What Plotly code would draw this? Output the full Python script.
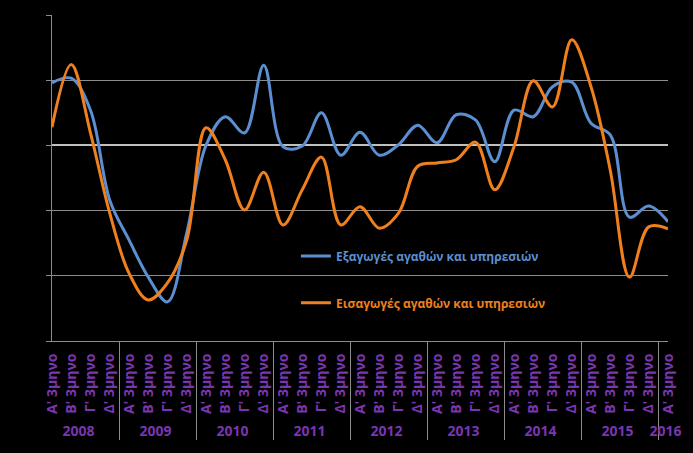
"""Greek trade chart: exports vs imports of goods and services, quarterly change."""

import plotly.graph_objects as go

years = ["2008", "2009", "2010", "2011", "2012", "2013", "2014", "2015", "2016"]
quarter_names = ["Α' 3μηνο", "Β' 3μηνο", "Γ' 3μηνο", "Δ' 3μηνο"]

exports = [
    9.6, 10.3, 5.4, -8.4,
    -14.5, -20.2, -24.0, -13.4,
    0.0, 4.4, 1.9, 12.3,
    -0.2, -0.1, 5.0, -1.5,
    2.0, -1.5, 0.1, 3.1,
    0.4, 4.7, 3.9, -2.5,
    5.4, 4.4, 9.0, 9.7,
    3.4, 1.6, -11.0, -9.3,
    -11.7,
]
imports = [
    2.8, 12.4, 1.9, -10.4,
    -19.6, -23.7, -21.1, -14.5,
    2.7, -2.2, -9.9, -4.1,
    -12.2, -6.8, -1.8, -12.2,
    -9.4, -12.7, -10.4, -3.2,
    -2.7, -2.2, 0.5, -6.8,
    -0.2, 9.9, 5.9, 16.2,
    9.0, -3.8, -20.2, -12.5,
    -12.8,
]

# multicategory axis: outer level = year, inner level = quarter
n = len(exports)
x_years = [years[i // 4] for i in range(n)]
x_quarters = [quarter_names[i % 4] for i in range(n)]

BLUE = "#5B8FD1"
ORANGE = "#F0801E"
PURPLE = "#7A35B0"
GRID = "#8C8C8C"

fig = go.Figure()

fig.add_trace(
    go.Scatter(
        x=[x_years, x_quarters],
        y=exports,
        mode="lines",
        name="Εξαγωγές αγαθών και υπηρεσιών",
        line=dict(color=BLUE, width=3, shape="spline", smoothing=1),
        legend="legend",
    )
)
fig.add_trace(
    go.Scatter(
        x=[x_years, x_quarters],
        y=imports,
        mode="lines",
        name="Εισαγωγές αγαθών και υπηρεσιών",
        line=dict(color=ORANGE, width=3, shape="spline", smoothing=1),
        legend="legend2",
    )
)

legend_base = dict(
    x=0.396,
    xanchor="left",
    yanchor="middle",
    bgcolor="rgba(0,0,0,0)",
    itemwidth=30,
)

fig.update_layout(
    width=693,
    height=453,
    margin=dict(l=52, r=25, t=15, b=112),
    paper_bgcolor="#000000",
    plot_bgcolor="#000000",
    font=dict(family="Open Sans", color=PURPLE),
    showlegend=True,
    legend=dict(
        **legend_base,
        y=0.261,
        font=dict(family="Open Sans", size=12, color=BLUE, weight="bold"),
    ),
    legend2=dict(
        **legend_base,
        y=0.117,
        font=dict(family="Open Sans", size=12, color=ORANGE, weight="bold"),
    ),
    xaxis=dict(
        type="multicategory",
        tickangle=-90,
        tickfont=dict(family="Open Sans", size=14, color=PURPLE, weight="bold"),
        ticklabelstandoff=6,
        showline=True,
        linecolor=GRID,
        linewidth=1,
        showdividers=True,
        dividercolor=GRID,
        dividerwidth=1,
        showgrid=False,
        ticks="",
    ),
    yaxis=dict(
        range=[-30, 20],
        dtick=10,
        showticklabels=False,
        showgrid=True,
        gridcolor=GRID,
        gridwidth=1,
        zeroline=True,
        zerolinecolor="#BFBFBF",
        zerolinewidth=2,
        showline=True,
        linecolor=GRID,
        ticks="outside",
        ticklen=5,
        tickcolor=GRID,
    ),
)

fig.write_html(
    "out.html",
    config={"displayModeBar": False},
    post_script="document.body.style.margin='0';document.body.style.background='#000';",
)
